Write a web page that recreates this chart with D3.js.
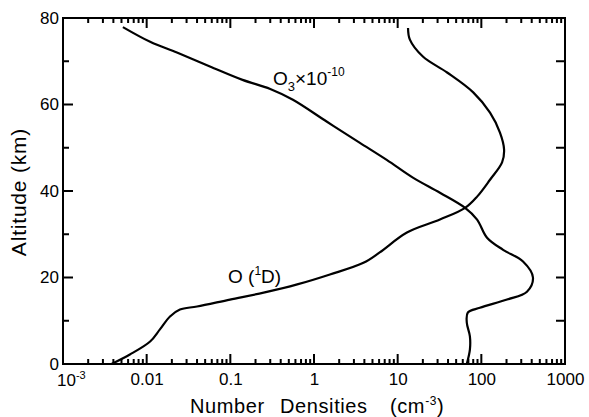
<!DOCTYPE html>
<html>
<head>
<meta charset="utf-8">
<script src="https://cdn.jsdelivr.net/npm/d3@7"></script>
<style>
  body { margin: 0; background: #fff; }
  text { font-family: "Liberation Sans", Arial, Helvetica, sans-serif; fill: #000; }
</style>
</head>
<body>
<script>
// ozone (x 1e-10), altitude in km, density in cm^-3
var o3Alt = [77.9, 74.5, 72.0, 68.8, 65.7, 63.6, 61.1, 56.0, 51.2, 47.2, 43.1, 39.6, 36.1, 33.4, 29.2, 26.4, 23.7, 20.0, 16.7, 14.9, 13.0, 11.9, 9.6, 6.4, 3.3, 0]
var o3Val = [0.0052, 0.011, 0.023, 0.057, 0.14, 0.30, 0.56, 1.43, 3.5, 7.4, 15.2, 32, 64, 89, 117, 182, 315, 414, 351, 203, 96, 69, 67, 73, 73, 67]

// O(1D)
var o1dAlt = [77.7, 75.0, 71.1, 67.4, 62.8, 58.1, 53.5, 49.6, 46.6, 42.6, 38.7, 36.1, 33.4, 30.4, 25.8, 23.4, 20.7, 18.4, 16.5, 14.9, 13.3, 12.6, 11.0, 8.0, 5.2, 2.2, 0]
var o1dVal = [13.3, 14.0, 20, 39, 80, 127, 167, 187, 177, 127, 89, 64, 32, 12.9, 6.1, 3.9, 1.55, 0.63, 0.25, 0.099, 0.040, 0.025, 0.019, 0.0144, 0.011, 0.0063, 0.0038]

var xMajor = [1e-3, 1e-2, 1e-1, 1, 10, 100, 1000]
var xLabels = ["", "0.01", "0.1", "1", "10", "100", "1000"]
var yMajor = [0, 20, 40, 60, 80]
var yMinor = [10, 30, 50, 70]

var margin = {top: 18, right: 24, bottom: 53, left: 63},
    width = 589 - margin.left - margin.right,
    height = 417 - margin.top - margin.bottom;

var svg = d3.select("body").append("svg")
    .attr("width", 589)
    .attr("height", 417)
  .append("g")
    .attr("transform", "translate(" + margin.left + "," + margin.top + ")");

var x = d3.scaleLog().domain([1e-3, 1e3]).range([0, width]);
var y = d3.scaleLinear().domain([0, 80]).range([height, 0]);

// minor log ticks (2..9 in every decade)
var xMinor = x.ticks().filter(function(d) {
  return xMajor.indexOf(d) < 0;
});

// frame and inward ticks as one path
var p = d3.path();
p.rect(0, 0, width, height);
xMinor.forEach(function(d) {
  p.moveTo(x(d), height); p.lineTo(x(d), height - 5);
  p.moveTo(x(d), 0); p.lineTo(x(d), 5);
});
xMajor.forEach(function(d) {
  p.moveTo(x(d), height); p.lineTo(x(d), height - 10);
  p.moveTo(x(d), 0); p.lineTo(x(d), 10);
});
yMajor.forEach(function(d) {
  p.moveTo(0, y(d)); p.lineTo(10, y(d));
  p.moveTo(width, y(d)); p.lineTo(width - 9, y(d));
});
yMinor.forEach(function(d) {
  p.moveTo(0, y(d)); p.lineTo(6, y(d));
  p.moveTo(width, y(d)); p.lineTo(width - 9, y(d));
});
svg.append("path")
  .attr("d", p.toString())
  .attr("fill", "none")
  .attr("stroke", "#000")
  .attr("stroke-width", 2);

// curves
function makeLine(alts, vals) {
  var pts = alts.map(function(a, i) { return [vals[i], a]; });
  var line = d3.line()
    .x(function(d) { return x(d[0]); })
    .y(function(d) { return y(d[1]); })
    .curve(d3.curveCatmullRom.alpha(0.5));
  svg.append("path")
    .datum(pts)
    .attr("d", line)
    .attr("fill", "none")
    .attr("stroke", "#000")
    .attr("stroke-width", 2.2);
}
makeLine(o3Alt, o3Val);
makeLine(o1dAlt, o1dVal);

// tick labels through the axes
function styleAxis(g) {
  g.select(".domain").remove();
  g.selectAll(".tick line").remove();
  g.selectAll("text").style("font-size", "17px").attr("fill", "#000");
}

svg.append("g")
  .attr("transform", "translate(0," + height + ")")
  .call(d3.axisBottom(x).tickValues(xMajor).tickSize(0).tickPadding(9)
    .tickFormat(function(d, i) { return xLabels[i]; }))
  .call(styleAxis);

svg.append("g")
  .call(d3.axisLeft(y).tickValues(yMajor).tickSize(0).tickPadding(4))
  .call(styleAxis);

// 10^-3 label
var lab = svg.append("text")
  .attr("x", -6)
  .attr("y", height + 22)
  .style("font-size", "17px");
lab.append("tspan").text("10");
lab.append("tspan").attr("dy", -7).style("font-size", "11px").text("-3");

// annotations
var t1 = svg.append("text")
  .attr("x", 273 - margin.left)
  .attr("y", 85 - margin.top)
  .style("font-size", "19px");
t1.append("tspan").text("O");
t1.append("tspan").attr("dy", 6).style("font-size", "13px").text("3");
t1.append("tspan").attr("dy", -6).text("\u00d710");
t1.append("tspan").attr("dy", -9).style("font-size", "12px").text("-10");

var t2 = svg.append("text")
  .attr("x", 228 - margin.left)
  .attr("y", 283 - margin.top)
  .style("font-size", "19px");
t2.append("tspan").text("O (");
t2.append("tspan").attr("dy", -8).style("font-size", "12px").text("1");
t2.append("tspan").attr("dy", 8).text("D)");

// axis titles
var xt = svg.append("text")
  .attr("y", 413 - margin.top)
  .style("font-size", "20px")
  .style("letter-spacing", "0.6px");
xt.append("tspan").attr("x", 190 - margin.left).text("Number");
xt.append("tspan").attr("x", 280 - margin.left).text("Densities");
xt.append("tspan").attr("x", 390 - margin.left).text("(cm");
xt.append("tspan").attr("dy", -8).style("font-size", "12px").text("-3");
xt.append("tspan").attr("dy", 8).text(")");

svg.append("text")
  .attr("transform", "translate(" + (26 - margin.left) + "," + (192 - margin.top) + ") rotate(-90)")
  .attr("text-anchor", "middle")
  .style("font-size", "21px")
  .style("letter-spacing", "0.8px")
  .text("Altitude (km)");
</script>
</body>
</html>
